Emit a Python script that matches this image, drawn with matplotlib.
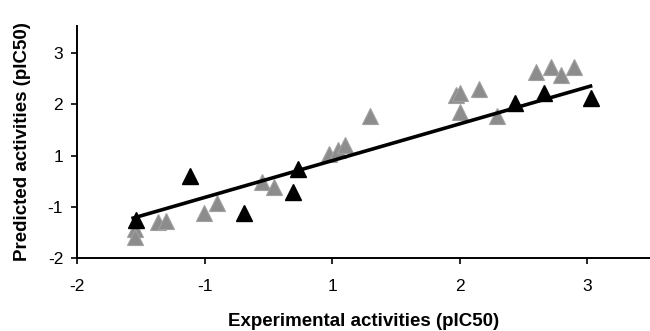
import matplotlib
matplotlib.use("Agg")
import matplotlib.pyplot as plt

plt.rcParams['font.family'] = ['Liberation Sans', 'DejaVu Sans']

# axis positions of the ticks and the labels printed on them
tick_pos = [-2, -1, 0, 1, 2]
tick_labels = ['-2', '-1', '1', '2', '3']

# training set (grey) and test set (black)
train_x = [-1.545, -1.545, -1.365, -1.302, -1.004, -0.902, -0.549, -0.455,
           -0.024, 0.047, 0.102, 0.298, 0.973, 1.004, 1.0, 1.153, 1.294,
           1.6, 1.718, 1.796, 1.898]
train_y = [-1.434, -1.59, -1.298, -1.278, -1.122, -0.927, -0.517, -0.615,
           0.029, 0.107, 0.205, 0.771, 1.18, 1.22, 0.849, 1.298, 0.771,
           1.629, 1.727, 1.571, 1.727]

test_x = [-1.537, -1.114, -0.69, -0.306, -0.267, 1.435, 1.663, 2.031]
test_y = [-1.259, -0.40, -1.12, -0.712, -0.263, 1.024, 1.22, 1.122]

# regression line end points
fit_x = [-1.56, 2.024]
fit_y = [-1.22, 1.356]

fig = plt.figure(figsize=(6.5, 3.31), dpi=100)
ax = fig.add_axes([0.1185, 0.2205, 0.8815, 0.701])

ax.plot(train_x, train_y, '^', color='#8c8c8c', markeredgecolor='#a0a0a0',
        markersize=11, markeredgewidth=0.8, zorder=2)
ax.plot(fit_x, fit_y, '-', color='black', linewidth=2.6, zorder=3)
ax.plot(test_x, test_y, '^', color='black', markersize=11, zorder=4)

ax.set_xlim(-2, 2.49)
ax.set_ylim(-2, 2.53)

ax.set_xticks(tick_pos)
ax.set_xticklabels(tick_labels)
ax.set_yticks(tick_pos)
ax.set_yticklabels(tick_labels)

for s in ['top', 'right']:
    ax.spines[s].set_visible(False)
for s in ['left', 'bottom']:
    ax.spines[s].set_linewidth(1.4)

ax.tick_params(axis='both', direction='out', length=4, width=1.2, labelsize=12.5)
ax.tick_params(axis='x', pad=11)
ax.tick_params(axis='y', pad=6)

ax.set_xlabel('Experimental activities (pIC50)', fontsize=13.5, fontweight='bold', labelpad=14)
ax.set_ylabel('Predicted activities (pIC50)', fontsize=13.5, fontweight='bold', labelpad=12)

fig.savefig('out.png', dpi=100)
